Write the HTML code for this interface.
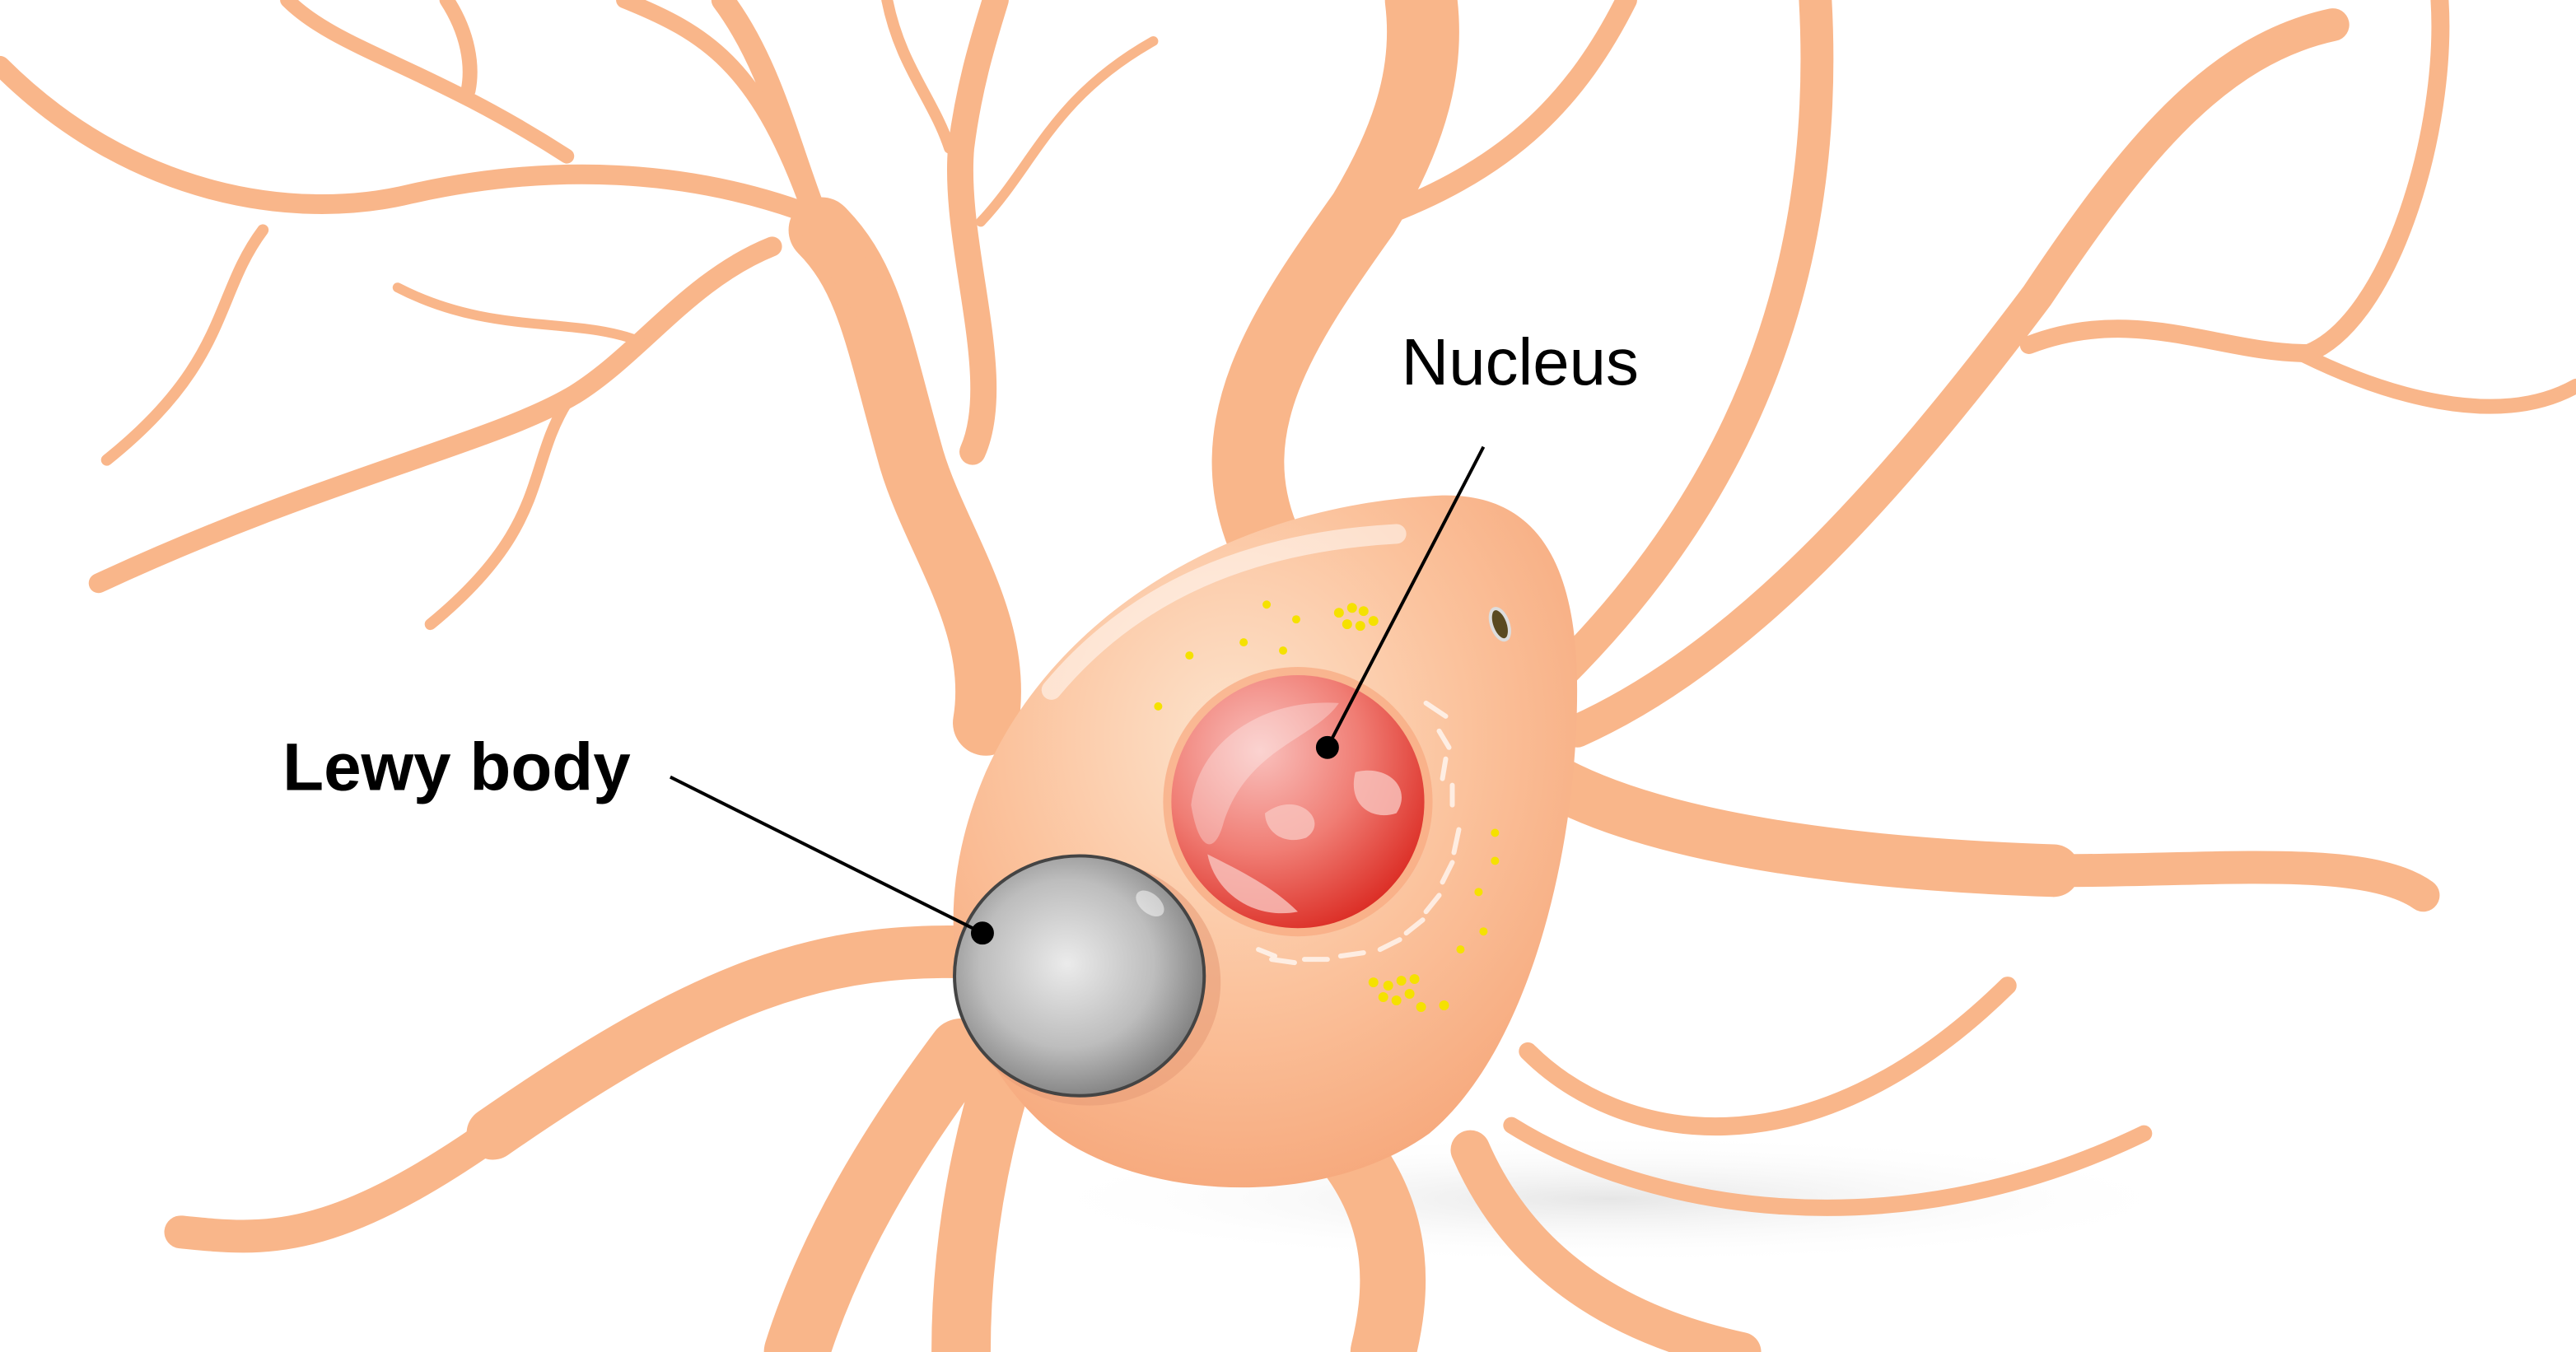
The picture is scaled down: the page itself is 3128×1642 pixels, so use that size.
<!DOCTYPE html>
<html><head><meta charset="utf-8"><style>
html,body{margin:0;padding:0;background:#fff;}
svg{display:block;}
</style></head><body>
<svg width="3128" height="1642" viewBox="0 0 1568 823" xmlns="http://www.w3.org/2000/svg">
<defs>
<radialGradient id="soma" cx="0.45" cy="0.35" r="0.75">
<stop offset="0" stop-color="#FDE3CC"/><stop offset="0.5" stop-color="#FBC29C"/><stop offset="1" stop-color="#F5A274"/>
</radialGradient>
<radialGradient id="nuc" cx="0.35" cy="0.3" r="0.8">
<stop offset="0" stop-color="#F9C0BC"/><stop offset="0.5" stop-color="#F07D74"/><stop offset="1" stop-color="#D9231B"/>
</radialGradient>
<radialGradient id="lewy" cx="0.45" cy="0.45" r="0.7">
<stop offset="0" stop-color="#EBEBEB"/><stop offset="0.5" stop-color="#BDBDBD"/><stop offset="1" stop-color="#5E5E5E"/>
</radialGradient>
<radialGradient id="shadow" cx="0.5" cy="0.5" r="0.5">
<stop offset="0" stop-color="#e6e6e6"/><stop offset="1" stop-color="#ffffff" stop-opacity="0"/>
</radialGradient>
</defs>
<rect width="1568" height="823" fill="#fff"/>
<ellipse cx="980" cy="730" rx="360" ry="40" fill="url(#shadow)"/>
<g fill="none" stroke="#F9B68A" stroke-linecap="round">
<path d="M600,440 C610,380 570,330 555,280 C535,210 530,170 500,140" stroke-width="40"/>
<path d="M540,200 C520,170 510,150 500,140" stroke-width="24"/>
<path d="M500,140 C480,90 470,40 440,0" stroke-width="14"/>
<path d="M505,135 C420,100 330,100 250,118 C180,135 80,120 0,40" stroke-width="12"/>
<path d="M592,275 C612,230 580,150 585,90 C590,50 600,20 606,0" stroke-width="16"/>
<path d="M597,135 C630,100 640,60 702,25" stroke-width="6"/>
<path d="M470,150 C420,170 390,215 350,240 C300,270 200,290 60,355" stroke-width="12"/>
<path d="M390,208 C350,192 300,205 242,175" stroke-width="6"/>
<path d="M345,245 C320,285 335,320 262,380" stroke-width="7"/>
<path d="M160,140 C130,180 140,220 65,280" stroke-width="7"/>
<path d="M272,0 C285,20 288,40 285,55" stroke-width="9"/>
<path d="M175,0 C205,30 260,40 345,95" stroke-width="9"/>
<path d="M380,0 C430,20 460,40 490,120" stroke-width="10"/>
<path d="M540,0 C548,40 568,60 578,90" stroke-width="7"/>
<path d="M770,330 C740,260 780,200 830,130 C860,80 870,40 865,0" stroke-width="44"/>
<path d="M850,128 C920,100 960,60 990,0" stroke-width="13"/>
<path d="M950,410 C1050,310 1115,180 1105,0" stroke-width="20"/>
<path d="M960,445 C1060,400 1150,300 1240,180 C1300,90 1350,30 1420,15" stroke-width="20"/>
<path d="M1235,210 C1300,185 1350,215 1405,215 C1455,195 1490,80 1485,0" stroke-width="11"/>
<path d="M1400,215 C1450,240 1520,262 1568,235" stroke-width="9"/>
<path d="M945,475 C1000,505 1100,525 1250,530" stroke-width="32"/>
<path d="M1250,530 C1350,530 1440,520 1475,545" stroke-width="20"/>
<path d="M930,640 C985,695 1100,720 1222,600" stroke-width="11"/>
<path d="M920,685 C1000,735 1150,765 1305,690" stroke-width="10"/>
<path d="M895,700 C930,780 1000,810 1060,823" stroke-width="24"/>
<path d="M820,700 C855,745 850,790 842,823" stroke-width="40"/>
<path d="M612,650 C590,720 585,780 585,823" stroke-width="36"/>
<path d="M585,640 C540,700 505,760 485,823" stroke-width="40"/>
<path d="M600,580 C500,575 430,600 300,690" stroke-width="32"/>
<path d="M300,690 C200,760 160,755 110,750" stroke-width="20"/>
</g>
<path d="M600,470 C640,380 740,310 870,302 C940,296 960,350 960,420 C960,520 930,640 870,690 C800,740 680,730 630,680 C570,620 570,540 600,470Z" fill="url(#soma)"/>
<path d="M640,420 C690,360 760,330 850,325" stroke="#fff" stroke-opacity="0.5" stroke-width="12" fill="none" stroke-linecap="round"/>
<g fill="#F5E100">
<circle cx="771" cy="368" r="2.5"/><circle cx="757" cy="391" r="2.5"/><circle cx="724" cy="399" r="2.5"/><circle cx="705" cy="430" r="2.5"/><circle cx="781" cy="396" r="2.5"/><circle cx="789" cy="377" r="2.5"/>
<circle cx="815" cy="373" r="3"/><circle cx="823" cy="370" r="3"/><circle cx="830" cy="372" r="3"/><circle cx="820" cy="380" r="3"/><circle cx="828" cy="381" r="3"/><circle cx="836" cy="378" r="3"/>
<circle cx="910" cy="507" r="2.5"/><circle cx="910" cy="524" r="2.5"/><circle cx="900" cy="543" r="2.5"/><circle cx="903" cy="567" r="2.5"/><circle cx="889" cy="578" r="2.5"/>
<circle cx="836" cy="598" r="3"/><circle cx="845" cy="600" r="3"/><circle cx="853" cy="597" r="3"/><circle cx="861" cy="596" r="3"/><circle cx="842" cy="607" r="3"/><circle cx="850" cy="609" r="3"/><circle cx="858" cy="605" r="3"/><circle cx="865" cy="613" r="3"/><circle cx="879" cy="612" r="3"/>
</g>
<ellipse cx="913" cy="380" rx="5" ry="10" fill="#5a4a20" stroke="#ddd" stroke-width="2" transform="rotate(-20 913 380)"/>
<g stroke="#fff" stroke-opacity="0.7" stroke-width="3" fill="none" stroke-linecap="round">
<path d="M868,428 l12,8 M876,445 l6,10 M880,462 l-2,12 M884,478 l0,12 M888,505 l-3,14 M884,525 l-6,12 M876,545 l-8,10 M866,560 l-10,8 M852,572 l-12,6 M830,580 l-14,2 M808,584 l-14,0 M788,586 l-14,-2 M776,582 l-10,-4"/>
</g>
<circle cx="790" cy="488" r="82" fill="#F8A87F" opacity="0.7"/>
<circle cx="790" cy="488" r="77" fill="url(#nuc)"/>
<path d="M725,490 C730,450 770,425 815,428 C800,450 760,455 745,500 C740,520 730,520 725,490Z" fill="#fff" opacity="0.3"/>
<path d="M770,495 C790,480 810,500 795,510 C780,515 770,505 770,495Z M825,470 C845,465 860,480 850,495 C835,500 820,490 825,470Z M735,520 C755,530 775,540 790,555 C765,560 740,545 735,520Z" fill="#F9C4BE" opacity="0.8"/>
<ellipse cx="663" cy="598" rx="80" ry="75" fill="#E89C78" opacity="0.6"/>
<ellipse cx="657" cy="594" rx="76" ry="73" fill="url(#lewy)" stroke="#444" stroke-width="2"/>
<ellipse cx="700" cy="550" rx="10" ry="6" fill="#fff" opacity="0.5" transform="rotate(40 700 550)"/>
<g stroke="#000" stroke-width="2" fill="#000">
<line x1="903" y1="272" x2="808" y2="455"/><circle cx="808" cy="455" r="6"/>
<line x1="408" y1="473" x2="598" y2="568"/><circle cx="598" cy="568" r="6"/>
</g>
<text x="853" y="234" font-family="Liberation Sans, sans-serif" font-size="40" fill="#000">Nucleus</text>
<text x="172" y="481" font-family="Liberation Sans, sans-serif" font-size="41" font-weight="bold" fill="#000">Lewy body</text>
</svg>
</body></html>
